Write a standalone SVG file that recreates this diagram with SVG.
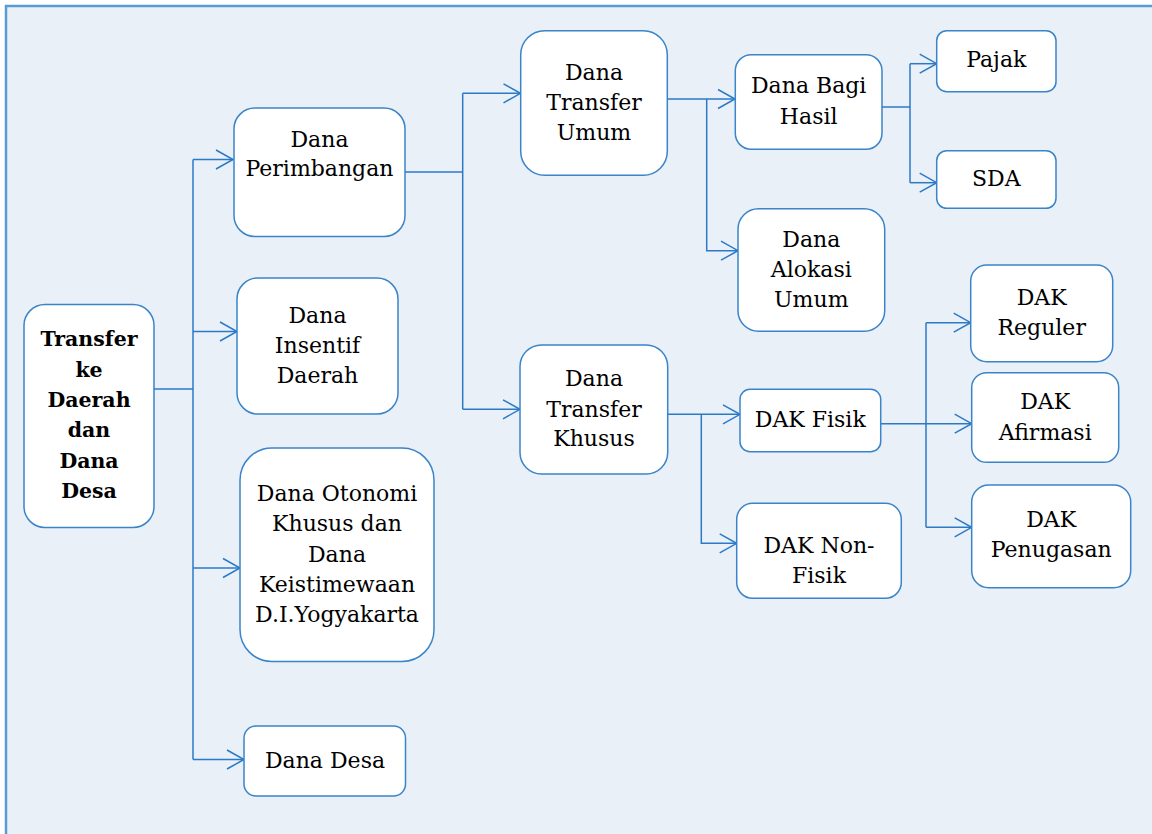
<svg xmlns="http://www.w3.org/2000/svg" width="1152" height="834" viewBox="0 0 1152 834">
<defs>
<marker id="arr" markerUnits="userSpaceOnUse" markerWidth="24" markerHeight="24" viewBox="-20 -12 24 24" refX="0" refY="0" orient="auto">
<path d="M-17,-9.5 L0,0 L-17,9.5" fill="none" stroke="#2A7AC8" stroke-width="1.5"/>
</marker>
</defs>
<style>
.box{fill:#FFFFFF;stroke:#3A84C9;stroke-width:1.5}
.t{font-family:"DejaVu Serif","Liberation Serif",serif;font-size:22px;fill:#000;text-anchor:middle}
.b{font-weight:bold;font-size:20.5px}
.c{fill:none;stroke:#2A7AC8;stroke-width:1.5}
.a{marker-end:url(#arr)}
</style>
<rect x="6" y="6" width="1160" height="840" fill="#E9F0F8" stroke="#5B9BD5" stroke-width="2.5"/>

<g id="connectors">
<path class="c" d="M154,389 H193"/>
<path class="c" d="M193,159.5 V759.5"/>
<path class="c a" d="M193,159.5 H233"/>
<path class="c a" d="M193,331.5 H237"/>
<path class="c a" d="M193,568 H240"/>
<path class="c a" d="M193,759.5 H244"/>
<path class="c" d="M405,172 H462.7"/>
<path class="c" d="M462.7,93.3 V409.3"/>
<path class="c a" d="M462.7,93.3 H520.5"/>
<path class="c a" d="M462.7,409.3 H520"/>
<path class="c a" d="M667,99 H735"/>
<path class="c a" d="M706.7,99 V250.7 H738"/>
<path class="c" d="M882,107 H910"/>
<path class="c" d="M910,63.7 V182.7"/>
<path class="c a" d="M910,63.7 H936.7"/>
<path class="c a" d="M910,182.7 H936.7"/>
<path class="c a" d="M667.7,414.3 H740"/>
<path class="c a" d="M701.3,414.3 V543.3 H736.7"/>
<path class="c a" d="M880.7,423.7 H971.7"/>
<path class="c" d="M926,322.7 V527.3"/>
<path class="c a" d="M926,322.7 H970.7"/>
<path class="c a" d="M926,527.3 H971.7"/>
</g>

<g id="n-transfer">
<rect class="box" x="24" y="304.5" width="130" height="223" rx="21"/>
<text class="t b" x="89"><tspan x="89" y="346">Transfer</tspan><tspan x="89" y="376.5">ke</tspan><tspan x="89" y="406.7">Daerah</tspan><tspan x="89" y="437">dan</tspan><tspan x="89" y="467.5">Dana</tspan><tspan x="89" y="498">Desa</tspan></text>
</g>

<g id="n-perimbangan">
<rect class="box" x="234" y="108" width="171" height="128.5" rx="21"/>
<text class="t"><tspan x="319.5" y="147">Dana</tspan><tspan x="319.5" y="176">Perimbangan</tspan></text>
</g>

<g id="n-insentif">
<rect class="box" x="237" y="278" width="161" height="136" rx="21"/>
<text class="t"><tspan x="317.5" y="322.5">Dana</tspan><tspan x="317.5" y="353">Insentif</tspan><tspan x="317.5" y="383">Daerah</tspan></text>
</g>

<g id="n-otonomi">
<rect class="box" x="240" y="448" width="194" height="213.5" rx="32"/>
<text class="t"><tspan x="337" y="501">Dana Otonomi</tspan><tspan x="337" y="531">Khusus dan</tspan><tspan x="337" y="561.5">Dana</tspan><tspan x="337" y="591.7">Keistimewaan</tspan><tspan x="337" y="621.7">D.I.Yogyakarta</tspan></text>
</g>

<g id="n-desa">
<rect class="box" x="244" y="726" width="161.5" height="70" rx="12"/>
<text class="t" x="325" y="767.5">Dana Desa</text>
</g>

<g id="n-dtu">
<rect class="box" x="520.7" y="30.7" width="146.6" height="144.6" rx="24"/>
<text class="t"><tspan x="594" y="80">Dana</tspan><tspan x="594" y="110">Transfer</tspan><tspan x="594" y="140">Umum</tspan></text>
</g>

<g id="n-dtk">
<rect class="box" x="520" y="345" width="147.7" height="129" rx="21.5"/>
<text class="t"><tspan x="594" y="386">Dana</tspan><tspan x="594" y="416.7">Transfer</tspan><tspan x="594" y="446">Khusus</tspan></text>
</g>

<g id="n-dbh">
<rect class="box" x="735.3" y="54.7" width="146.7" height="94.6" rx="16"/>
<text class="t"><tspan x="808.7" y="92.7">Dana Bagi</tspan><tspan x="808.7" y="124">Hasil</tspan></text>
</g>

<g id="n-dau">
<rect class="box" x="738" y="208.7" width="146.7" height="122.6" rx="20.5"/>
<text class="t"><tspan x="811.3" y="247.3">Dana</tspan><tspan x="811.3" y="276.7">Alokasi</tspan><tspan x="811.3" y="307.3">Umum</tspan></text>
</g>

<g id="n-pajak">
<rect class="box" x="936.7" y="30.7" width="119.3" height="61" rx="10"/>
<text class="t" x="996.3" y="67.3">Pajak</text>
</g>

<g id="n-sda">
<rect class="box" x="936.7" y="150.7" width="119.3" height="57.6" rx="10"/>
<text class="t" x="996.3" y="185.7">SDA</text>
</g>

<g id="n-dakfisik">
<rect class="box" x="740" y="389.3" width="140.7" height="62.4" rx="10"/>
<text class="t" x="810.3" y="426.7">DAK Fisik</text>
</g>

<g id="n-daknonfisik">
<rect class="box" x="736.7" y="503.3" width="164.6" height="95" rx="16"/>
<text class="t"><tspan x="819" y="553.3">DAK Non-</tspan><tspan x="819" y="583.3">Fisik</tspan></text>
</g>

<g id="n-dakreguler">
<rect class="box" x="970.7" y="265" width="142" height="96.7" rx="16"/>
<text class="t"><tspan x="1041.7" y="305">DAK</tspan><tspan x="1041.7" y="335">Reguler</tspan></text>
</g>

<g id="n-dakafirmasi">
<rect class="box" x="971.7" y="372.7" width="147" height="89.6" rx="15"/>
<text class="t"><tspan x="1045.2" y="409.3">DAK</tspan><tspan x="1045.2" y="440">Afirmasi</tspan></text>
</g>

<g id="n-dakpenugasan">
<rect class="box" x="971.7" y="485" width="159" height="102.7" rx="17"/>
<text class="t"><tspan x="1051.2" y="527.3">DAK</tspan><tspan x="1051.2" y="557.3">Penugasan</tspan></text>
</g>
</svg>
